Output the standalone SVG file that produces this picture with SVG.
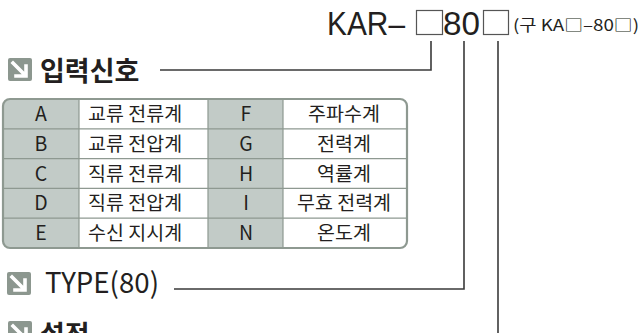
<svg xmlns="http://www.w3.org/2000/svg" width="643" height="333" viewBox="0 0 643 333">
<style>
.t{font-family:"Noto Sans CJK KR","Noto Sans",sans-serif;fill:#231f20}
.big{font-family:"Liberation Sans Narrow","Liberation Sans",sans-serif;fill:#231f20;font-size:33px}
.cell{font-size:19.5px}
.c{text-anchor:middle}
.hd{font-size:27px;font-weight:bold}
.ln{stroke:#3a3a3a;stroke-width:1.6;fill:none}
.grid{stroke:#8e9991;stroke-width:1.2;fill:none}
.ico{fill:#8c978f}
.arr{stroke:#fff;stroke-width:3.6;fill:none;stroke-linecap:square}
</style>
<defs>
<g id="icon">
<rect class="ico" x="0" y="0" width="24" height="23" rx="2"/>
<path class="arr" d="M5 5 L17 17 M18 8 V18 H8"/>
</g>
</defs>
<rect width="643" height="333" fill="#fff"/>
<g id="title">
<text class="big" x="327" y="35" textLength="78" lengthAdjust="spacingAndGlyphs">KAR–</text>
<rect x="416.5" y="10.5" width="26" height="24" fill="none" stroke="#555" stroke-width="1.2"/>
<text class="big" x="443" y="35" textLength="37" lengthAdjust="spacingAndGlyphs">80</text>
<rect x="483.5" y="10.5" width="25" height="24" fill="none" stroke="#555" stroke-width="1.2"/>
<text class="t" x="513" y="31" font-size="16" textLength="126" lengthAdjust="spacingAndGlyphs">(구 KA□–80□)</text>
</g>
<g id="connectors">
<path class="ln" d="M431 41 V70 H160"/>
<path class="ln" d="M464 41 V289 H174"/>
<path class="ln" d="M498 41 V333"/>
</g>
<g id="input-signal">
<use href="#icon" x="8" y="58"/>
<text class="t hd" x="40" y="81">입력신호</text>
</g>
<g id="table">
<rect x="3" y="99" width="404" height="149" rx="7" fill="#fff"/>
<rect x="3" y="99" width="76" height="149" fill="#c2cbc7"/>
<rect x="208" y="99" width="75" height="149" fill="#c2cbc7"/>
<path d="M3 99 h6 a6 6 0 0 0 -6 6z M3 248 h6 a6 6 0 0 1 -6 -6z" fill="#fff"/>
<path class="grid" d="M79 99 V248 M208 99 V248 M283 99 V248 M3 128.8 H407 M3 158.6 H407 M3 188.4 H407 M3 218.2 H407"/>
<rect x="3" y="99" width="404" height="149" rx="7" fill="none" stroke="#8e9991" stroke-width="2.2"/>
<g class="t cell">
<text class="c" x="41" y="121">A</text><text x="88" y="121">교류 전류계</text><text class="c" x="246" y="121">F</text><text class="c" x="344" y="121">주파수계</text>
<text class="c" x="41" y="150.8">B</text><text x="88" y="150.8">교류 전압계</text><text class="c" x="246" y="150.8">G</text><text class="c" x="344" y="150.8">전력계</text>
<text class="c" x="41" y="180.6">C</text><text x="88" y="180.6">직류 전류계</text><text class="c" x="246" y="180.6">H</text><text class="c" x="344" y="180.6">역률계</text>
<text class="c" x="41" y="210.4">D</text><text x="88" y="210.4">직류 전압계</text><text class="c" x="246" y="210.4">I</text><text class="c" x="344" y="210.4">무효 전력계</text>
<text class="c" x="41" y="240.2">E</text><text x="88" y="240.2">수신 지시계</text><text class="c" x="246" y="240.2">N</text><text class="c" x="344" y="240.2">온도계</text>
</g>
</g>
<g id="type">
<use href="#icon" x="7" y="272"/>
<text class="t" x="45" y="293" font-size="28.5" textLength="114" lengthAdjust="spacingAndGlyphs">TYPE(80)</text>
</g>
<g id="setting">
<use href="#icon" x="8" y="321"/>
<text class="t hd" x="40" y="345">설정</text>
</g>
</svg>
